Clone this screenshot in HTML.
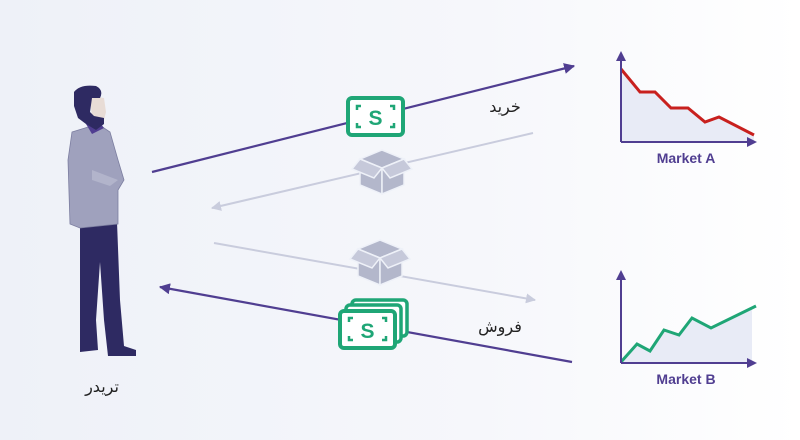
<!DOCTYPE html>
<html><head><meta charset="utf-8"><style>
html,body{margin:0;padding:0;}
body{width:800px;height:440px;overflow:hidden;background:linear-gradient(90deg,#eef1f8 0%,#f6f7fb 60%,#ffffff 100%);}
svg{display:block}
text{font-family:"Liberation Sans","DejaVu Sans",sans-serif;}
</style></head><body>
<svg width="800" height="440" viewBox="0 0 800 440" xmlns="http://www.w3.org/2000/svg">
<defs>
<marker id="ap" viewBox="0 0 10 10" refX="9" refY="5" markerWidth="5" markerHeight="5" orient="auto"><path d="M0,0 L10,5 L0,10 z" fill="#503e91"/></marker>
<marker id="ag" viewBox="0 0 10 10" refX="9" refY="5" markerWidth="5" markerHeight="5" orient="auto"><path d="M0,0 L10,5 L0,10 z" fill="#c9ccdd"/></marker>
<marker id="aa" viewBox="0 0 10 10" refX="5" refY="5" markerWidth="5" markerHeight="5" orient="auto"><path d="M0,0 L10,5 L0,10 z" fill="#503e91"/></marker>
</defs>
<line x1="152" y1="172" x2="574" y2="66" stroke="#503e91" stroke-width="2.2" marker-end="url(#ap)"/>
<line x1="533" y1="133" x2="212" y2="208" stroke="#c9ccdd" stroke-width="2" marker-end="url(#ag)"/>
<line x1="214" y1="243" x2="535" y2="300" stroke="#c9ccdd" stroke-width="2" marker-end="url(#ag)"/>
<line x1="572" y1="362" x2="160" y2="287" stroke="#503e91" stroke-width="2.2" marker-end="url(#ap)"/>
<!-- money 1 -->
<rect x="348" y="98" width="55" height="37" rx="4" fill="#fff" stroke="#1fa676" stroke-width="4"/>
<path d="M357,110 v-4 h4 M390,106 h4 v4 M357,123 v4 h4 M394,123 v4 h-4" fill="none" stroke="#1fa676" stroke-width="2.5"/>
<text x="375.5" y="125" font-size="21" font-weight="bold" text-anchor="middle" fill="#1fa676">S</text>
<!-- box 1 -->
<g fill="#b3b7cb" stroke="#eef1f8" stroke-width="1.5">
<path d="M382,150 L404,159 L382,168 L360,159 z"/>
<path d="M360,159 L382,168 L382,194 L360,185 z"/>
<path d="M404,159 L382,168 L382,194 L404,185 z"/>
<path d="M360,159 L352,169 L374,178 L382,168 z" fill="#c6c9da"/>
<path d="M404,159 L412,169 L390,178 L382,168 z" fill="#c6c9da"/>
</g>
<!-- box 2 -->
<g fill="#b3b7cb" stroke="#eef1f8" stroke-width="1.5">
<path d="M380,240 L402,249 L380,258 L358,249 z"/>
<path d="M358,249 L380,258 L380,285 L358,276 z"/>
<path d="M402,249 L380,258 L380,285 L402,276 z"/>
<path d="M358,249 L350,259 L372,268 L380,258 z" fill="#c6c9da"/>
<path d="M402,249 L410,259 L388,268 L380,258 z" fill="#c6c9da"/>
</g>
<!-- money stack -->
<g fill="#fff" stroke="#1fa676" stroke-width="3.5">
<rect x="352" y="300" width="55" height="36" rx="4"/>
<rect x="346" y="305" width="55" height="37" rx="4"/>
<rect x="340" y="311" width="55" height="37" rx="4" stroke-width="4"/>
</g>
<path d="M349,322 v-4 h4 M382,318 h4 v4 M349,336 v4 h4 M386,336 v4 h-4" fill="none" stroke="#1fa676" stroke-width="2.5"/>
<text x="367.5" y="338" font-size="21" font-weight="bold" text-anchor="middle" fill="#1fa676">S</text>
<!-- labels -->
<text x="505" y="112" font-size="16" text-anchor="middle" fill="#222" font-family="'DejaVu Sans',sans-serif">خرید</text>
<text x="500" y="332" font-size="16" text-anchor="middle" fill="#222" font-family="'DejaVu Sans',sans-serif">فروش</text>
<text x="102" y="392" font-size="16" text-anchor="middle" fill="#222" font-family="'DejaVu Sans',sans-serif">تریدر</text>
<!-- chart A -->
<path d="M621,69 L640,92 L655,92 L671,108 L688,108 L705,122 L719,117 L754,135 L754,142 L621,142 z" fill="#e8ebf6"/>
<polyline points="621,69 640,92 655,92 671,108 688,108 705,122 719,117 754,135" fill="none" stroke="#c8201e" stroke-width="3"/>
<line x1="621" y1="142" x2="621" y2="56" stroke="#503e91" stroke-width="2" marker-end="url(#aa)"/>
<line x1="621" y1="142" x2="752" y2="142" stroke="#503e91" stroke-width="2" marker-end="url(#aa)"/>
<text x="686" y="163" font-size="14" font-weight="bold" text-anchor="middle" fill="#503e91">Market A</text>
<!-- chart B -->
<path d="M621,362 L637,344 L650,351 L664,330 L679,335 L692,318 L711,328 L752,308 L752,363 L621,363 z" fill="#e8ebf6"/>
<polyline points="621,362 637,344 650,351 664,330 679,335 692,318 711,328 756,306" fill="none" stroke="#1fa676" stroke-width="3"/>
<line x1="621" y1="363" x2="621" y2="275" stroke="#503e91" stroke-width="2" marker-end="url(#aa)"/>
<line x1="621" y1="363" x2="752" y2="363" stroke="#503e91" stroke-width="2" marker-end="url(#aa)"/>
<text x="686" y="384" font-size="14" font-weight="bold" text-anchor="middle" fill="#503e91">Market B</text>
<!-- person -->
<g>
<path d="M80,225 L117,222 L120,300 L124,346 L136,350 L136,356 L108,356 L104,320 L100,262 L96,320 L98,350 L80,352 z" fill="#2e2a62"/>
<path d="M72,132 L98,124 L110,132 L118,160 L124,180 L118,190 L118,224 L80,228 L70,224 L68,160 z" fill="#9fa1bd" stroke="#7c7ea0" stroke-width="0.8"/>
<path d="M92,170 L118,180 L110,186 L92,180 z" fill="#b2b4cb"/>
<path d="M86,124 L98,120 L104,128 L92,134 z" fill="#503e91"/>
<path d="M90,96 L104,98 L106,112 L104,120 L92,118 z" fill="#e8dcd6"/>
<path d="M74,92 Q80,84 96,86 Q104,90 100,98 L92,98 L90,112 L94,116 L104,118 L104,124 L96,130 L86,124 L78,118 L74,106 z" fill="#2e2a62"/>
</g>
</svg>
</body></html>
